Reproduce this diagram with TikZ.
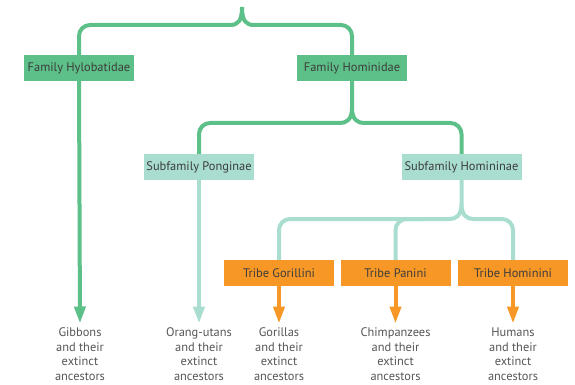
\documentclass[tikz,border=0pt]{standalone}
\usepackage{fontspec}
\setmainfont{PT Sans}
\usetikzlibrary{arrows.meta}
\definecolor{fgreen}{RGB}{93,192,136}
\definecolor{fteal}{RGB}{168,221,208}
\definecolor{forange}{RGB}{247,152,38}
\definecolor{labtext}{RGB}{60,60,60}
\definecolor{leaftext}{RGB}{85,85,85}
\begin{document}
\begin{tikzpicture}[x=1pt,y=-1pt,
  box/.style={minimum width=110pt,minimum height=26pt,inner sep=0pt,
    font=\fontsize{12.4}{14}\selectfont,text=labtext},
  gbox/.style={box,fill=fgreen},
  tbox/.style={box,fill=fteal},
  obox/.style={box,fill=forange},
  leaf/.style={align=center,anchor=north,inner sep=0pt,
    font=\fontsize{12.4}{14.7}\selectfont,text=leaftext},
  gline/.style={draw=fgreen,line width=4pt},
  tline/.style={draw=fteal,line width=4pt},
  oline/.style={draw=forange,line width=4pt},
  arr/.style={-{Triangle[length=17pt,width=11pt]},shorten >=4pt}
]
\useasboundingbox (0,0) rectangle (575,385);

% boxes
\node[gbox] (hyl) at (79,68) {Family Hylobatidae};
\node[gbox] (hom) at (352,68) {Family Hominidae};
\node[tbox] (pon) at (199,167) {Subfamily Ponginae};
\node[tbox,minimum width=120pt] (hni) at (461.5,167) {Subfamily Homininae};
\node[obox] (gor) at (279,273) {Tribe Gorillini};
\node[obox] (pan) at (395.5,273) {Tribe Panini};
\node[obox] (hmi) at (513,273) {Tribe Hominini};

% leaves
\node[leaf] (gib) at (80,327.5) {Gibbons\\and their\\extinct\\ancestors};
\node[leaf] (ora) at (199,327.5) {Orang-utans\\and their\\extinct\\ancestors};
\node[leaf] (gla) at (279,327.5) {Gorillas\\and their\\extinct\\ancestors};
\node[leaf] (chi) at (395.5,327.5) {Chimpanzees\\and their\\extinct\\ancestors};
\node[leaf] (hum) at (513,327.5) {Humans\\and their\\extinct\\ancestors};

% top brace
\coordinate (top) at (242,7);
\draw[gline] (top) .. controls +(0,14) and +(8,0) .. (230,25)
  [rounded corners=11] -| (hyl.north);
\draw[gline] (top) .. controls +(0,14) and +(-8,0) .. (254,25)
  [rounded corners=11] -| (hom.north);

% second brace
\coordinate (b2) at (352,108);
\draw[gline] (hom.south) -- (b2) .. controls +(0,12) and +(6,0) .. (340,123)
  [rounded corners=11] -| (pon.north);
\draw[gline] (b2) .. controls +(0,12) and +(-6,0) .. (364,123)
  [rounded corners=11] -| (hni.north);

% third brace
\coordinate (b3) at (461.5,204);
\draw[tline] (hni.south) -- (b3) .. controls +(0,12) and +(6,0) .. (449.5,219)
  [rounded corners=11] -| (gor.north);
\draw[tline] (b3) .. controls +(0,12) and +(-6,0) .. (473.5,219)
  [rounded corners=11] -| (hmi.north);
\draw[tline,rounded corners=11] (pan.north) |- (420,219);

% arrows
\draw[gline,arr] (hyl.south) -- (gib.north);
\draw[tline,arr] (pon.south) -- (ora.north);
\draw[oline,arr] (gor.south) -- (gla.north);
\draw[oline,arr] (pan.south) -- (chi.north);
\draw[oline,arr] (hmi.south) -- (hum.north);
\end{tikzpicture}
\end{document}
